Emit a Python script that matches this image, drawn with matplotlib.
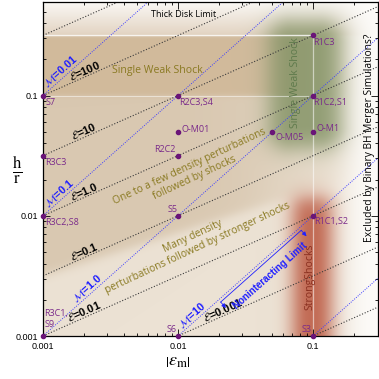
import numpy as np
import matplotlib
matplotlib.use('Agg')
import matplotlib.pyplot as plt

plt.rcParams['mathtext.fontset'] = 'stix'
plt.rcParams['font.family'] = ['Liberation Sans', 'DejaVu Sans']

# ---- data ----
pt_names = ['S7', 'R3C3', 'R3C2,S8', 'R3C1,\nS9', 'S6', 'S5', 'R2C2', 'O-M01',
            'R2C3,S4', 'O-M05', 'O-M1', 'R1C3', 'R1C2,S1', 'R1C1,S2', 'S3']
pt_eps = [0.001, 0.001, 0.001, 0.001, 0.01, 0.01, 0.01, 0.01,
          0.01, 0.05, 0.1, 0.1, 0.1, 0.1, 0.1]
pt_hr = [0.1, 0.0316, 0.01, 0.001, 0.001, 0.01, 0.0316, 0.05,
         0.1, 0.05, 0.05, 0.316, 0.1, 0.01, 0.001]

E_values = [1e-4, 1e-3, 1e-2, 1e-1, 1.0, 10, 100, 1000]
E_labels = {100: '100', 10: '10', 1.0: '1.0', 0.1: '0.1', 0.01: '0.01', 1e-3: '0.001'}
E_label_eps = {100: 0.0021, 10: 0.0021, 1.0: 0.0021, 0.1: 0.0021, 0.01: 0.0021, 1e-3: 0.0224}

M_values = [0.01, 0.1, 1.0, 10, 100]
M_labels = {0.01: '0.01', 0.1: '0.1', 1.0: '1.0', 10: '10'}
M_label_eps = {0.01: 0.00145, 0.1: 0.0014, 1.0: 0.00228, 10: 0.0136}

thick_disk = 0.316
xlim = (0.001, 0.3)
ylim = (0.001, 0.6)

# ---- figure ----
fig = plt.figure(figsize=(3.79, 3.79), dpi=100)
pos = [43 / 379, 43 / 379, 334.5 / 379, 334 / 379]
bg = fig.add_axes(pos, zorder=0)
ax = fig.add_axes(pos, zorder=1)
ax.set_facecolor('none')

# background shading, built in axes pixel space
W, H = 335, 334
px = np.arange(W)[None, :] + 0.5
py = np.arange(H)[:, None] + 0.5
u = np.log10(xlim[0]) + px / W * (np.log10(xlim[1]) - np.log10(xlim[0]))
v = np.log10(ylim[0]) + py / H * (np.log10(ylim[1]) - np.log10(ylim[0]))
dec_y = H / (np.log10(ylim[1]) - np.log10(ylim[0]))


def sig(d, w):
    return 1.0 / (1.0 + np.exp(-d / w))


img = np.ones((H, W, 3)) * np.array([236, 226, 212]) / 255.0


def layer(col, a):
    global img
    a = np.clip(a, 0, 1)[..., None] * np.ones((1, 1, 3))
    img = img * (1 - a) + np.array(col) / 255.0 * a


# darker region above the soft diagonal
vb = -2.5 + 0.36 * (u + 3)
layer([217, 200, 177], sig((v - vb) * dec_y, 3) * sig((240 - px), 25))
# brown "single weak shock" band
band = sig((v + 1.0) * dec_y, 1.5) * sig((np.log10(thick_disk) - v) * dec_y, 1.0)
layer([209, 186, 155], band * sig((250 - px), 18))
# top fade
top = sig((v - np.log10(thick_disk)) * dec_y, 0.8)
frac = np.clip((v - np.log10(thick_disk)) * dec_y / 36.0, 0, 1)
topcol = np.array([226, 211, 193]) * (1 - frac[..., None]) + np.array([252, 251, 249]) * frac[..., None]
a = top[..., None]
img = img * (1 - a) + topcol / 255.0 * a
# right fade
layer([253, 252, 250], sig(px - 305, 9))
# green rounded box
gx0, gx1, gy0, gy1, rad = 226, 298, 188, 314, 22
qx = np.maximum(np.abs(px - (gx0 + gx1) / 2) - ((gx1 - gx0) / 2 - rad), 0)
qy = np.maximum(np.abs(py - (gy0 + gy1) / 2) - ((gy1 - gy0) / 2 - rad), 0)
dist = np.sqrt(qx ** 2 + qy ** 2) - rad
layer([122, 140, 92], 0.8 * sig(-dist, 7))
# red strong shock band
rx = np.exp(-np.abs((px - 269) / 22.0) ** 2.6)
layer([190, 95, 72], 0.9 * rx * sig(138 - py, 6))

bg.imshow(img, origin='lower', aspect='auto', extent=(0, 1, 0, 1), interpolation='bilinear')
bg.set_xlim(0, 1)
bg.set_ylim(0, 1)
bg.axis('off')

ax.set_xscale('log')
ax.set_yscale('log')
ax.set_xlim(*xlim)
ax.set_ylim(*ylim)

# white guide lines
ax.plot([xlim[0], 0.1], [thick_disk, thick_disk], color='white', lw=1.0, alpha=0.8, zorder=1)
ax.plot([xlim[0], 0.1], [0.1, 0.1], color='white', lw=0.8, alpha=0.5, zorder=1)
ax.plot([0.1, 0.1], [ylim[0], thick_disk], color='white', lw=0.9, alpha=0.55, zorder=1)

eps = np.logspace(np.log10(xlim[0]), np.log10(xlim[1]), 300)
for E in E_values:
    ax.plot(eps, np.sqrt(E * eps / 10.0), color='#3a3a3a', lw=0.8,
            linestyle=(0, (1, 1.6)), zorder=2)
for M in M_values:
    ax.plot(eps, eps / M, color='#3c3cff', lw=0.7,
            linestyle=(0, (1, 1.4)), zorder=2)


def line_angle(f, e0):
    p1 = ax.transData.transform((e0, f(e0)))
    p2 = ax.transData.transform((e0 * 1.5, f(e0 * 1.5)))
    return np.degrees(np.arctan2(p2[1] - p1[1], p2[0] - p1[0]))


def place(s, f, e0, off, **kw):
    ang = line_angle(f, e0)
    t = np.radians(ang)
    ax.annotate(s, xy=(e0, f(e0)), xytext=(-np.sin(t) * off, np.cos(t) * off),
                textcoords='offset points', rotation=ang, rotation_mode='anchor',
                ha='center', va='center', zorder=4, **kw)


for E, lab in E_labels.items():
    place(r'$\mathcal{E}$=' + lab, lambda e, E=E: np.sqrt(E * e / 10.0), E_label_eps[E], 4.2,
          fontsize=8, fontweight='bold', color='black')
for M, lab in M_labels.items():
    place(r'$\mathcal{M}$=' + lab, lambda e, M=M: e / M, M_label_eps[M], 4.5,
          fontsize=7.8, fontweight='bold', color='#2020ff')

# noninteracting limit bracket along M = 10
fM10 = lambda e: e / 10.0
place('Noninteracting Limit', fM10, 0.04, -11.5, fontsize=7, fontweight='bold', color='#2020ff')
ang = np.radians(line_angle(fM10, 0.03))
nrm = np.array([np.sin(ang), -np.cos(ang)])
inv = ax.transData.inverted()
e_ends = [0.02, 0.079]
for e_end in e_ends:
    p = ax.transData.transform((e_end, fM10(e_end)))
    d0 = inv.transform(p + nrm * 3)
    d1 = inv.transform(p + nrm * 11)
    ax.annotate('', xy=d1, xytext=d0, xycoords='data', textcoords='data',
                arrowprops=dict(arrowstyle='-|>,head_length=0.25,head_width=0.12',
                                color='#2020ff', lw=0.6, shrinkA=0, shrinkB=0), zorder=4)
da = inv.transform(ax.transData.transform((e_ends[0], fM10(e_ends[0]))) + nrm * 3)
db = inv.transform(ax.transData.transform((e_ends[1], fM10(e_ends[1]))) + nrm * 3)
ax.plot([da[0], db[0]], [da[1], db[1]], color='#2020ff', lw=0.6, zorder=4)

# simulation points
ax.plot(pt_eps, pt_hr, 'o', color='#6a1478', ms=3, zorder=5, clip_on=False)
lab_style = {
    'S7': ((1.5, -1.5), 'left', 'top'), 'R3C3': ((1.5, -1.5), 'left', 'top'),
    'R3C2,S8': ((1.5, -1.5), 'left', 'top'), 'R3C1,\nS9': ((1, 5), 'left', 'bottom'),
    'S6': ((-1, 1.5), 'right', 'bottom'), 'S5': ((-0.5, 1.5), 'right', 'bottom'),
    'R2C2': ((-2, 1.5), 'right', 'bottom'), 'O-M01': ((2.5, 1.5), 'left', 'center'),
    'R2C3,S4': ((1, -1.5), 'left', 'top'), 'O-M05': ((2, -1), 'left', 'top'),
    'O-M1': ((2.5, 2.5), 'left', 'center'), 'R1C3': ((0, -2), 'left', 'top'),
    'R1C2,S1': ((0, -2), 'left', 'top'), 'R1C1,S2': ((1, -1), 'left', 'top'),
    'S3': ((-1, 1.5), 'right', 'bottom'),
}
for n, e, h in zip(pt_names, pt_eps, pt_hr):
    off, ha, va = lab_style[n]
    ax.annotate(n, xy=(e, h), xytext=off, textcoords='offset points', ha=ha, va=va,
                fontsize=6.5, color='#7a2a8a', family=['Open Sans', 'DejaVu Sans'],
                zorder=5, linespacing=1.3)

# region texts
olive = '#8a7a22'
rf = ['Open Sans', 'DejaVu Sans']
ax.text(0.341, 0.796, 'Single Weak Shock', transform=ax.transAxes, ha='center', va='center',
        fontsize=7.6, color=olive, family=rf, zorder=3)
ax.text(0.419, 0.962, 'Thick Disk Limit', transform=ax.transAxes, ha='center', va='center',
        fontsize=6.5, color='black', family=rf, zorder=3)
ax.text(0.445, 0.49, 'One to a few density perturbations\nfollowed by shocks', transform=ax.transAxes,
        ha='center', va='center', rotation=25, fontsize=7.4, color=olive, family=rf,
        linespacing=1.15, zorder=3)
ax.text(0.455, 0.28, 'Many density\nperturbations followed by stronger shocks', transform=ax.transAxes,
        ha='center', va='center', rotation=25, fontsize=7.4, color=olive, family=rf,
        linespacing=1.15, zorder=3)
ax.text(0.756, 0.76, 'Single Weak Shock', transform=ax.transAxes, ha='center', va='center',
        rotation=90, fontsize=7.6, color='#5f7a4c', family=rf, zorder=3)
ax.text(0.798, 0.177, 'StrongShocks', transform=ax.transAxes, ha='center', va='center',
        rotation=90, fontsize=7.6, color='#8a3020', family=rf, zorder=3)
ax.text(0.975, 0.593, 'Excluded by Binary BH Merger Simulations?', transform=ax.transAxes,
        ha='center', va='center', rotation=90, fontsize=7.4, color='black', family=rf, zorder=3)

# axes styling
ax.set_xticks([0.001, 0.01, 0.1])
ax.set_xticklabels(['0.001', '0.01', '0.1'])
ax.set_yticks([0.001, 0.01, 0.1])
ax.set_yticklabels(['0.001', '0.01', '0.1'])
ax.tick_params(which='both', direction='in', top=True, right=True, labelsize=6.5, width=0.6)
ax.tick_params(which='major', length=5)
ax.tick_params(which='minor', length=2.5)
ax.tick_params(axis='x', pad=4)
for s in ax.spines.values():
    s.set_linewidth(0.9)

fig.text(17 / 379, 1 - 170 / 379, r'$\frac{\mathrm{h}}{\mathrm{r}}$', fontsize=17,
         ha='center', va='center')
fig.text(178 / 379, 1 - 361 / 379, r'$\left|\epsilon_{\mathrm{m}}\right|$', fontsize=13,
         ha='center', va='center')

fig.savefig('out.png', dpi=100)
